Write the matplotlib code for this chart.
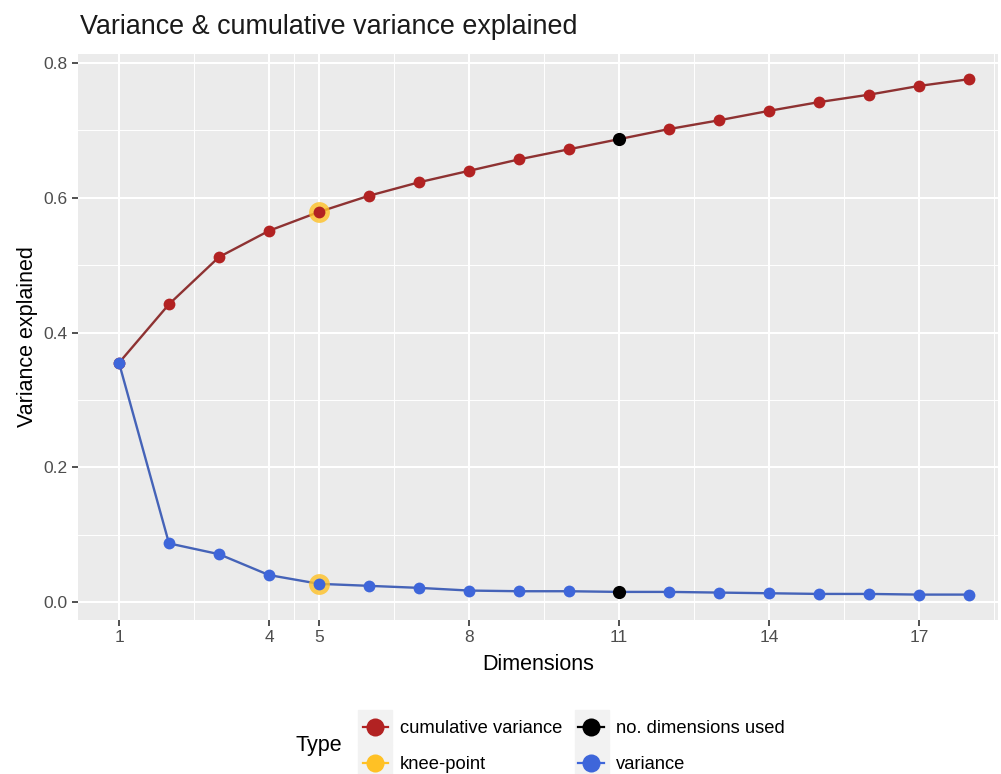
import numpy as np
import matplotlib
matplotlib.use("Agg")
import matplotlib.pyplot as plt
from matplotlib.lines import Line2D
from matplotlib.patches import Rectangle

dims = list(range(1, 19))
cumulative = [0.355, 0.442, 0.512, 0.551, 0.579, 0.603, 0.623, 0.640, 0.657,
              0.672, 0.687, 0.702, 0.715, 0.729, 0.742, 0.753, 0.766, 0.776]
variance = [0.355, 0.087, 0.071, 0.040, 0.027, 0.024, 0.021, 0.017, 0.016,
            0.016, 0.015, 0.015, 0.014, 0.013, 0.012, 0.012, 0.011, 0.011]
knee_dim = 5
used_dim = 11
x_breaks = [1, 4, 5, 8, 11, 14, 17]
y_breaks = [0.0, 0.2, 0.4, 0.6, 0.8]
labels = ["cumulative variance", "knee-point", "no. dimensions used", "variance"]


def main():
    plt.rcParams['font.family'] = ['Liberation Sans', 'DejaVu Sans']
    fig = plt.figure(figsize=(10.01, 7.74), dpi=100)
    ax = fig.add_axes([78/1001, 1-620/774, 920/1001, 566/774])
    ax.set_facecolor('#EBEBEB')
    for s in ax.spines.values():
        s.set_visible(False)

    # grid: major + minor (midpoints like ggplot)
    x_minor = [2.5, 4.5, 6.5, 9.5, 12.5, 15.5, 18.5]
    y_minor = [0.1, 0.3, 0.5, 0.7]
    for v in x_breaks:
        ax.axvline(v, color='white', lw=1.5, zorder=0)
    for v in x_minor:
        ax.axvline(v, color='white', lw=0.7, zorder=0)
    for v in y_breaks:
        ax.axhline(v, color='white', lw=1.5, zorder=0)
    for v in y_minor:
        ax.axhline(v, color='white', lw=0.7, zorder=0)

    red = '#B22222'
    blue = '#3E66DA'
    gold = '#FFC125'

    ax.plot(dims, cumulative, color='#8E3232', lw=1.7, zorder=2)
    ax.plot(dims, variance, color='#4563B8', lw=1.7, zorder=2)

    ki = dims.index(knee_dim)
    ax.plot([knee_dim, knee_dim], [cumulative[ki], variance[ki]], 'o', color=gold,
            ms=15, alpha=0.8, mec='none', zorder=3)
    ax.plot(dims, cumulative, 'o', color=red, ms=8.5, mec='none', zorder=4)
    ax.plot(dims, variance, 'o', color=blue, ms=8.5, mec='none', zorder=5)
    ui = dims.index(used_dim)
    ax.plot([used_dim, used_dim], [cumulative[ui], variance[ui]], 'o', color='black',
            ms=9.5, mec='none', zorder=6)

    ax.set_xlim(0.18, 18.58)
    ax.set_ylim(-0.0267, 0.8134)
    ax.set_xticks(x_breaks)
    ax.set_xticklabels([str(b) for b in x_breaks])
    ax.set_yticks(y_breaks)
    ax.set_yticklabels(['%.1f' % b for b in y_breaks])
    ax.tick_params(length=4.5, width=1.2, color='#333333', labelcolor='#4D4D4D',
                   labelsize=12.5, pad=3)

    ax.set_xlabel('Dimensions', fontsize=15.5, color='black', labelpad=6)
    ax.set_ylabel('Variance explained', fontsize=15.5, color='black', labelpad=4)

    fig.text(80/1001, 1-27/774, 'Variance & cumulative variance explained',
             fontsize=19.4, va='center', ha='left', color='#1A1A1A')

    # legend
    handles = [
        Line2D([], [], color=red, marker='o', ms=13, lw=1.6, mec='none'),
        Line2D([], [], color=gold, marker='o', ms=13, lw=1.6, mec='none'),
        Line2D([], [], color='black', marker='o', ms=13, lw=1.6, mec='none'),
        Line2D([], [], color=blue, marker='o', ms=13, lw=1.6, mec='none'),
    ]
    for (kx, ky) in [(375, 727), (375, 762), (592, 727), (592, 762)]:
        fig.patches.append(Rectangle(((kx-17)/1001, 1-(ky+17.5)/774), 34/1001, 35/774,
                                     transform=fig.transFigure, color='#F2F2F2',
                                     zorder=0))
    fig.legend(handles, labels, ncol=2, loc='center left',
               bbox_to_anchor=(346/1001, 1-746.5/774), frameon=False,
               fontsize=13.2, handlelength=1.4, handletextpad=0.65,
               columnspacing=0.87, labelspacing=1.04)
    fig.text(296/1001, 1-745/774, 'Type', fontsize=15.5, va='center', ha='left')

    fig.savefig('out.png', dpi=100)


if __name__ == "__main__":
    main()
